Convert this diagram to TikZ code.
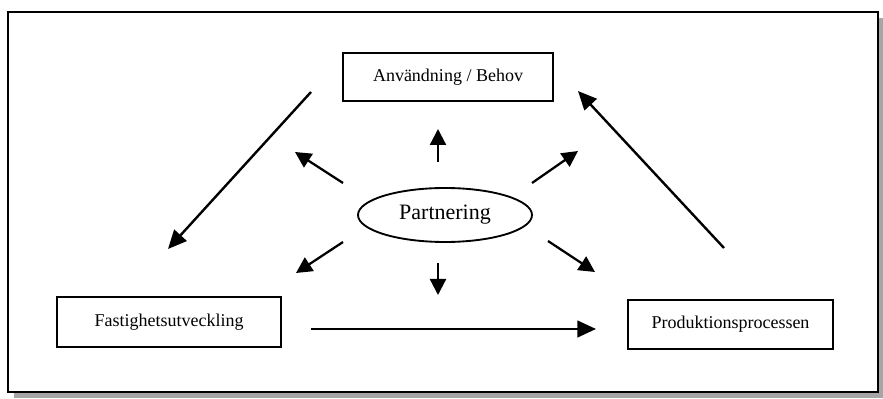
\documentclass[tikz,border=0pt]{standalone}
\usepackage{fontspec}
\setmainfont{Liberation Serif}
\usetikzlibrary{shapes.geometric,arrows.meta}
\begin{document}
\begin{tikzpicture}[x=0.75pt,y=-0.75pt,
  boxnode/.style={draw,line width=1.4pt,inner sep=0pt,font=\fontsize{13.5pt}{15pt}\selectfont},
  arr/.style={line width=1.8pt,-{Triangle[length=14pt,width=12.5pt]}},
  sarr/.style={line width=1.7pt,-{Triangle[length=12pt,width=12pt]}}]
\useasboundingbox (0,0) rectangle (883,399);
% shadow strip and frame
\fill[gray!70] (14,393) rectangle (883,398);
\fill[gray!70] (879,18) rectangle (883,398);
\draw[line width=1.6pt] (8,12) rectangle (878,392);
% nodes
\node[boxnode,minimum width=157.5pt,minimum height=36pt] (top) at (448,77) {Användning / Behov};
\node[boxnode,minimum width=168pt,minimum height=37.5pt] (left) at (169,322) {Fastighetsutveckling};
\node[boxnode,minimum width=153.75pt,minimum height=36.75pt] (right) at (730.5,324.5) {Produktionsprocessen};
\node[draw,ellipse,line width=1.4pt,inner sep=0pt,minimum width=130.5pt,minimum height=40.5pt,font=\fontsize{16.5pt}{18pt}\selectfont] (part) at (445,215) {Partnering};
% coordinates of arrow ends
\coordinate (a1s) at (311,92);  \coordinate (a1e) at (168,249);
\coordinate (a2s) at (311,329); \coordinate (a2e) at (596,329);
\coordinate (a3s) at (724,248); \coordinate (a3e) at (578,91);
\coordinate (upS) at (438,162); \coordinate (upE) at (438,129);
\coordinate (ulS) at (343,183); \coordinate (ulE) at (295,152);
\coordinate (urS) at (532,183); \coordinate (urE) at (578,151);
\coordinate (llS) at (343,242); \coordinate (llE) at (296,273);
\coordinate (dnS) at (438,263); \coordinate (dnE) at (438,295);
\coordinate (lrS) at (548,241); \coordinate (lrE) at (595,272);
% big arrows
\draw[arr] (a1s) -- (a1e);
\draw[arr] (a2s) -- (a2e);
\draw[arr] (a3s) -- (a3e);
% small arrows around Partnering
\draw[sarr] (upS) -- (upE);
\draw[sarr] (ulS) -- (ulE);
\draw[sarr] (urS) -- (urE);
\draw[sarr] (llS) -- (llE);
\draw[sarr] (dnS) -- (dnE);
\draw[sarr] (lrS) -- (lrE);
\end{tikzpicture}
\end{document}
